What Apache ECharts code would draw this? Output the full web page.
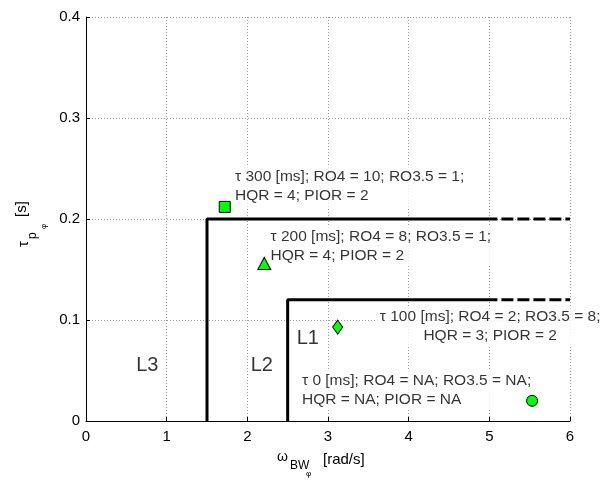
<!DOCTYPE html>
<html>
<head>
<meta charset="utf-8">
<script src="https://cdn.jsdelivr.net/npm/echarts@6/dist/echarts.min.js"></script>
<style>
  html, body { margin: 0; padding: 0; background: #fff; }
  #chart { width: 613px; height: 482px; }
</style>
</head>
<body>
<div id="chart"></div>
<script>
// ---- data ----
const xTicks = [0, 1, 2, 3, 4, 5, 6];
const yTicks = [0, 0.1, 0.2, 0.3, 0.4];

// Level boundaries (solid part and dashed extrapolation)
const bound1X = [1.5, 1.5, 5.1];
const bound1Y = [0, 0.2, 0.2];
const bound1ExtX = [5.1, 6];
const bound1ExtY = [0.2, 0.2];
const bound2X = [2.5, 2.5, 5.1];
const bound2Y = [0, 0.12, 0.12];
const bound2ExtX = [5.1, 6];
const bound2ExtY = [0.12, 0.12];

// Test points (tau = 300, 200, 100, 0 ms)
const pointNames = ['τ 300', 'τ 200', 'τ 100', 'τ 0'];
const pointX = [1.72, 2.21, 3.12, 5.53];
const pointY = [0.212, 0.156, 0.093, 0.020];

// Annotation texts
const noteTexts = [
  'τ 300 [ms]; RO4 = 10; RO3.5 = 1;\nHQR = 4; PIOR = 2',
  'τ 200 [ms]; RO4 = 8; RO3.5 = 1;\nHQR = 4; PIOR = 2',
  'τ 100 [ms]; RO4 = 2; RO3.5 = 8;\nHQR = 3; PIOR = 2',
  'τ 0 [ms]; RO4 = NA; RO3.5 = NA;\nHQR = NA; PIOR = NA'
];
const levelNames = ['L1', 'L2', 'L3'];

// ---- layout (anchors in data coordinates) ----
const noteAnchors = [[1.81, 0.232, 'left'], [2.25, 0.173, 'left'], [5.01, 0.0936, 'center'], [2.64, 0.0307, 'left']];
const levelAnchors = [[2.75, 0.082], [2.18, 0.055], [0.76, 0.055]];
const pointSymbols = ['rect', 'triangle', 'diamond', 'circle'];
const pointSizes = [11, [13, 12], [10, 14], 11];

const zip = (xs, ys) => xs.map((x, i) => [x, ys[i]]);
const FONT = '"Liberation Sans", Arial, sans-serif';

const lineStyleSolid = { color: '#000', width: 3, type: 'solid' };
const lineStyleDash = { color: '#000', width: 3, type: [12, 4], dashOffset: 12 };

const series = [];
[[bound1X, bound1Y, lineStyleSolid], [bound1ExtX, bound1ExtY, lineStyleDash],
 [bound2X, bound2Y, lineStyleSolid], [bound2ExtX, bound2ExtY, lineStyleDash]].forEach(([xs, ys, ls]) => {
  series.push({
    type: 'line', data: zip(xs, ys), showSymbol: false, symbol: 'none',
    lineStyle: ls, z: 2, silent: true, animation: false
  });
});

// annotations
series.push({
  type: 'scatter', z: 3, symbolSize: 0, animation: false, silent: true,
  data: noteTexts.map((t, i) => ({
    value: [noteAnchors[i][0], noteAnchors[i][1]],
    label: {
      show: true, position: 'inside', formatter: t,
      align: noteAnchors[i][2], verticalAlign: 'middle',
      color: '#000', fontSize: 15.5, fontFamily: FONT, lineHeight: 19,
      backgroundColor: '#fff', padding: [1, 3, 1, 3]
    }
  }))
});
// level names
series.push({
  type: 'scatter', z: 3, symbolSize: 0, animation: false, silent: true,
  data: levelNames.map((t, i) => ({
    value: levelAnchors[i],
    label: {
      show: true, position: 'inside', formatter: t, align: 'center', verticalAlign: 'middle',
      color: '#000', fontSize: 20, fontFamily: FONT
    }
  }))
});
// points
pointX.forEach((x, i) => {
  series.push({
    type: 'scatter', name: pointNames[i], z: 5, animation: false,
    symbol: pointSymbols[i], symbolSize: pointSizes[i],
    itemStyle: { color: '#00ff00', borderColor: '#000', borderWidth: 1, opacity: 1 },
    data: [[x, pointY[i]]]
  });
});

const chart = echarts.init(document.getElementById('chart'), null, { renderer: 'canvas' });
chart.setOption({
  animation: false,
  backgroundColor: '#fff',
  grid: { left: 86, right: 43, top: 17, bottom: 61, containLabel: false },
  xAxis: {
    type: 'value', min: xTicks[0], max: xTicks[xTicks.length - 1], interval: 1,
    axisLine: { show: true, lineStyle: { color: '#000', width: 1 } },
    axisTick: { show: true, inside: true, length: 4, lineStyle: { color: '#000' } },
    axisLabel: { color: '#000', fontSize: 15, fontFamily: FONT, margin: 8 },
    splitLine: { show: true, lineStyle: { color: '#9a9a9a', type: [1, 2], width: 1 } }
  },
  yAxis: {
    type: 'value', min: yTicks[0], max: yTicks[yTicks.length - 1], interval: 0.1,
    axisLine: { show: true, lineStyle: { color: '#000', width: 1 } },
    axisTick: { show: true, inside: true, length: 4, lineStyle: { color: '#000' } },
    axisLabel: { color: '#000', fontSize: 15, fontFamily: FONT, margin: 6,
      formatter: v => (v === 0 ? '0' : v.toFixed(1)) },
    splitLine: { show: true, lineStyle: { color: '#9a9a9a', type: [1, 2], width: 1 } }
  },
  graphic: [
    // x axis title: ω_{BW_φ} [rad/s]
    { type: 'text', x: 277, y: 464, style: { text: 'ω', font: '14px ' + FONT, fill: '#000', textVerticalAlign: 'bottom' } },
    { type: 'text', x: 290, y: 472, style: { text: 'BW', font: '12px ' + FONT, fill: '#000', textVerticalAlign: 'bottom' } },
    { type: 'text', x: 306, y: 478, style: { text: 'φ', font: '8px ' + FONT, fill: '#000', textVerticalAlign: 'bottom' } },
    { type: 'text', x: 323, y: 467, style: { text: '[rad/s]', font: '15px ' + FONT, fill: '#000', textVerticalAlign: 'bottom' } },
    // y axis title: τ_{p_φ} [s]
    { type: 'text', x: 24, y: 247, rotation: Math.PI / 2, style: { text: 'τ', font: '15px ' + FONT, fill: '#000', textVerticalAlign: 'middle', textAlign: 'left' } },
    { type: 'text', x: 33, y: 239, rotation: Math.PI / 2, style: { text: 'p', font: '12px ' + FONT, fill: '#000', textVerticalAlign: 'middle', textAlign: 'left' } },
    { type: 'text', x: 44, y: 229, rotation: Math.PI / 2, style: { text: 'φ', font: '8px ' + FONT, fill: '#000', textVerticalAlign: 'middle', textAlign: 'left' } },
    { type: 'text', x: 22, y: 217, rotation: Math.PI / 2, style: { text: '[s]', font: '15px ' + FONT, fill: '#000', textVerticalAlign: 'middle', textAlign: 'left' } }
  ],
  series: series
});
</script>
</body>
</html>
